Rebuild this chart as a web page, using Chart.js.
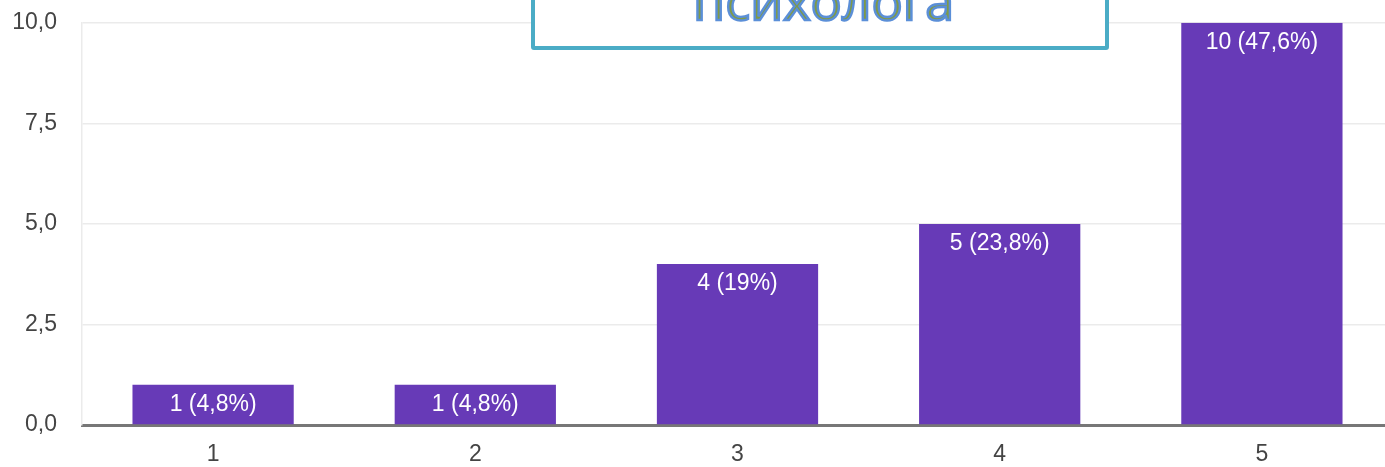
<!DOCTYPE html>
<html>
<head>
<meta charset="utf-8">
<script src="https://cdn.jsdelivr.net/npm/chart.js@4"></script>
<style>
  html, body { margin: 0; padding: 0; background: #fff; overflow: hidden; width: 1385px; height: 467px; }
  #wrap { position: absolute; left: 0; top: -16px; width: 1393px; height: 483px; }
  #box {
    position: absolute; left: 531px; top: -18px; width: 570px; height: 60px;
    border: 4px solid #4bacc6; border-radius: 3px; background: #fff; z-index: 5;
    overflow: hidden;
  }
  #boxText {
    position: absolute; left: 693px; top: -39px; z-index: 6;
    font-family: "Open Sans", sans-serif; font-size: 52px; line-height: 78px;
    color: #7f9a48; -webkit-text-stroke: 2.4px #5b8fd8; white-space: nowrap;
  }
</style>
</head>
<body>
<div id="wrap"><canvas id="c" width="1393" height="483"></canvas></div>
<div id="box"></div>
<div id="boxText">психолога</div>
<script>
const categories = ["1", "2", "3", "4", "5"];
const counts = [1, 1, 4, 5, 10];
const percentLabels = ["4,8%", "4,8%", "19%", "23,8%", "47,6%"];
const yTicks = [0, 2.5, 5, 7.5, 10];

const barLabels = {
  id: 'barLabels',
  afterDatasetsDraw(chart) {
    const ctx = chart.ctx;
    const meta = chart.getDatasetMeta(0);
    ctx.save();
    ctx.fillStyle = '#ffffff';
    ctx.font = '23px "Liberation Sans", Arial, sans-serif';
    ctx.textAlign = 'center';
    ctx.textBaseline = 'middle';
    meta.data.forEach((bar, i) => {
      ctx.fillText(counts[i] + ' (' + percentLabels[i] + ')', bar.x, bar.y + 20);
    });
    ctx.restore();
  }
};

new Chart(document.getElementById('c'), {
  type: 'bar',
  data: {
    labels: categories,
    datasets: [{
      data: counts,
      backgroundColor: '#673ab7',
      borderWidth: 0,
      barPercentage: 0.615,
      categoryPercentage: 1.0
    }]
  },
  options: {
    responsive: false,
    animation: false,
    devicePixelRatio: 1,
    layout: { padding: { top: 6, left: 0, right: 0, bottom: 0 } },
    plugins: { legend: { display: false }, tooltip: { enabled: false } },
    scales: {
      x: {
        grid: { display: false, drawTicks: false },
        border: { display: true, color: '#777777', width: 3 },
        ticks: {
          color: '#444444',
          font: { family: '"Liberation Sans", Arial, sans-serif', size: 23 },
          padding: 16
        },
        afterFit(scale) { scale.height = 42; }
      },
      y: {
        min: 0, max: 10,
        afterBuildTicks(scale) { scale.ticks = yTicks.map(v => ({ value: v })); },
        grid: { color: '#ebebeb', lineWidth: 1.5, drawTicks: false },
        border: { display: true, color: '#ebebeb', width: 1.5 },
        ticks: {
          color: '#444444',
          font: { family: '"Liberation Sans", Arial, sans-serif', size: 23 },
          padding: 25,
          callback: v => Number(v).toFixed(1).replace('.', ',')
        },
        afterFit(scale) { scale.width = 82; }
      }
    }
  },
  plugins: [barLabels]
});
</script>
</body>
</html>
